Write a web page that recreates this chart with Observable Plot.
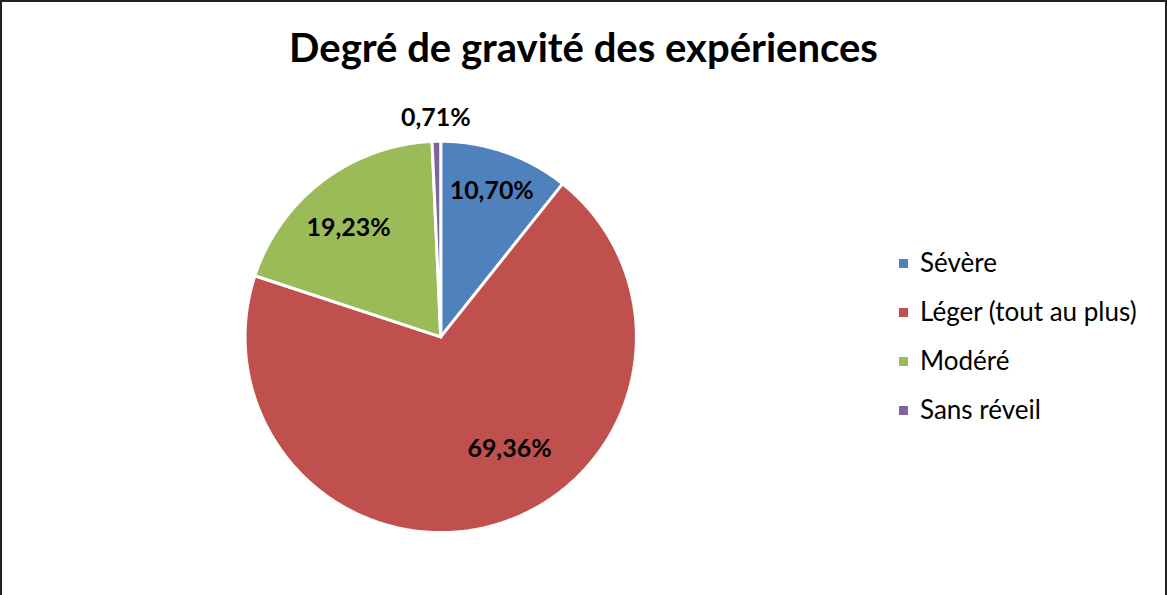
<!DOCTYPE html>
<html>
<head>
<meta charset="utf-8">
<script src="https://cdn.jsdelivr.net/npm/d3@7"></script>
<script src="https://cdn.jsdelivr.net/npm/@observablehq/plot@0.6"></script>
<style>
  html, body { margin: 0; padding: 0; background: #fff; }
  #frame { position: relative; width: 1163px; height: 600px; border: 2px solid #222; border-bottom: none; overflow: hidden; font-family: Lato, "Open Sans", sans-serif; }
  #title { position: absolute; left: 0; width: 1163px; top: 21px; line-height: 48px; text-align: center; font-weight: bold; font-size: 40px; color: #000; }
  #chart { position: absolute; left: -2px; top: -2px; }
  #legend { position: absolute; left: 897px; top: 245px; font-size: 26px; line-height: 31px; color: #000; }
  .item { height: 49px; display: flex; align-items: flex-start; }
  .sw { width: 9px; height: 9px; margin-right: 12px; margin-top: 12px; }
</style>
</head>
<body>
<div id="frame">
  <div id="chart"></div>
  <div id="title">Degré de gravité des expériences</div>
  <div id="legend"></div>
</div>
<script>
// Data
const categories = ["Sévère", "Léger (tout au plus)", "Modéré", "Sans réveil"];
const values = [10.70, 69.36, 19.23, 0.71];
const labels = ["10,70%", "69,36%", "19,23%", "0,71%"];
// Style
const colors = ["#4F81BD", "#C0504D", "#9BBB59", "#8064A2"];
const labelRadius = [0.79, 0.67, 0.73, 1.12];
const labelAngleShift = [0, -15, -3, 0];

const pie = d3.pie().sort(null).value(d => d.value)(categories.map((c, i) => ({name: c, value: values[i], i})));

const slicePts = [];
pie.forEach(p => {
  const n = Math.max(2, Math.ceil((p.endAngle - p.startAngle) / 0.01));
  slicePts.push({i: p.data.i, x: 0, y: 0});
  for (let k = 0; k <= n; k++) {
    const a = p.startAngle + (p.endAngle - p.startAngle) * k / n;
    slicePts.push({i: p.data.i, x: Math.sin(a), y: Math.cos(a)});
  }
  slicePts.push({i: p.data.i, x: 0, y: 0});
});

const labelData = pie.map(p => {
  const i = p.data.i;
  const a = (p.startAngle + p.endAngle) / 2 + labelAngleShift[i] * Math.PI / 180;
  return {x: labelRadius[i] * Math.sin(a), y: labelRadius[i] * Math.cos(a), text: labels[i]};
});

const marks = categories.map((c, i) =>
  Plot.line(slicePts.filter(d => d.i === i), {x: "x", y: "y", fill: colors[i], stroke: "white", strokeWidth: 3, strokeLinejoin: "miter"})
);
marks.push(Plot.text(labelData, {x: "x", y: "y", text: "text", fontSize: 25, fontWeight: "bold", fill: "#000"}));

const chart = Plot.plot({
  width: 1167,
  height: 595,
  marginLeft: 245,
  marginRight: 530,
  marginTop: 141,
  marginBottom: 62,
  x: {domain: [-1, 1], axis: null},
  y: {domain: [-1, 1], axis: null},
  style: {background: "transparent", fontFamily: "Lato, 'Open Sans', sans-serif", overflow: "visible"},
  marks
});
document.getElementById("chart").appendChild(chart);

const leg = document.getElementById("legend");
categories.forEach((c, i) => {
  const it = document.createElement("div");
  it.className = "item";
  it.innerHTML = `<div class="sw" style="background:${colors[i]}"></div><span>${c}</span>`;
  leg.appendChild(it);
});
</script>
</body>
</html>
